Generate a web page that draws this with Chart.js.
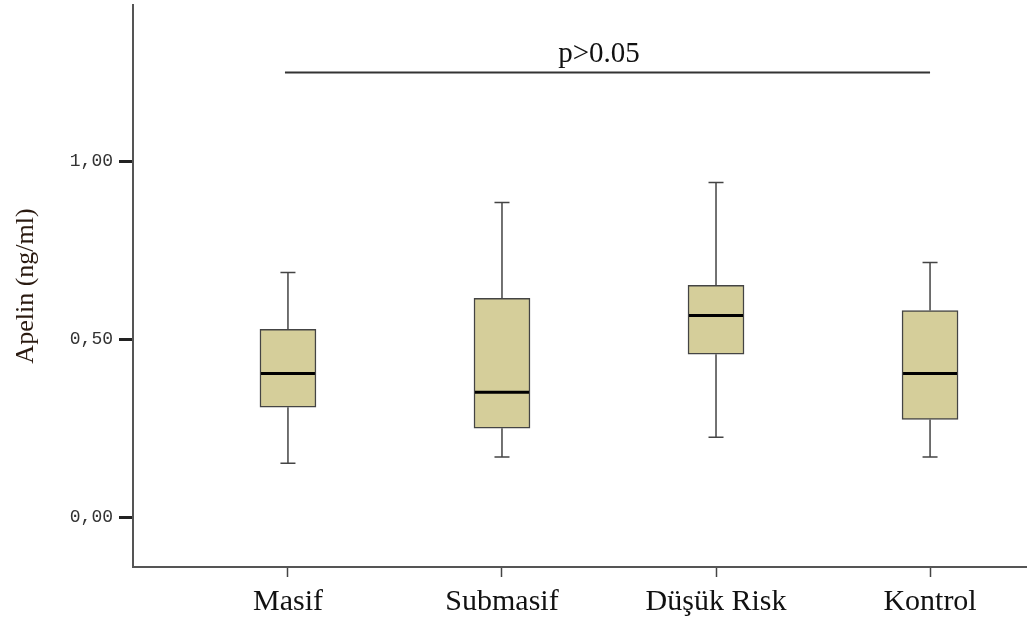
<!DOCTYPE html>
<html><head><meta charset="utf-8">
<script src="https://cdn.jsdelivr.net/npm/chart.js@4.4.1/dist/chart.umd.min.js"></script>
<style>html,body{margin:0;padding:0;background:#fff}#wrap{width:1027px;height:620px;position:relative}</style>
</head><body><div id="wrap"><canvas id="c" width="1027" height="620"></canvas></div>
<script>
const categories = ['Masif', 'Submasif', 'Düşük Risk', 'Kontrol'];
const whiskerLow = [0.152, 0.169, 0.225, 0.169];
const q1 = [0.309, 0.250, 0.458, 0.275];
const median = [0.404, 0.351, 0.567, 0.404];
const q3 = [0.528, 0.615, 0.652, 0.581];
const whiskerHigh = [0.688, 0.885, 0.941, 0.716];
const yTicks = [0, 0.5, 1.0];
const bracketFrom = 0.986, bracketTo = 4, bracketLevel = 1.25;
const bracketLabel = 'p>0.05';

const boxData = categories.map((c, i) => ({x: i + 1, y: [q1[i], q3[i]]}));

const whiskerPlugin = {
  id: 'whiskers',
  afterDatasetsDraw(chart) {
    const {ctx, scales: {x, y}} = chart;
    ctx.save();
    categories.forEach((c, i) => {
      const cx = x.getPixelForValue(i + 1);
      const capHalf = 7.5;
      ctx.strokeStyle = '#444';
      ctx.lineWidth = 1.5;
      ctx.beginPath();
      ctx.moveTo(cx, y.getPixelForValue(q3[i]));
      ctx.lineTo(cx, y.getPixelForValue(whiskerHigh[i]));
      ctx.moveTo(cx, y.getPixelForValue(q1[i]));
      ctx.lineTo(cx, y.getPixelForValue(whiskerLow[i]));
      ctx.moveTo(cx - capHalf, y.getPixelForValue(whiskerHigh[i]));
      ctx.lineTo(cx + capHalf, y.getPixelForValue(whiskerHigh[i]));
      ctx.moveTo(cx - capHalf, y.getPixelForValue(whiskerLow[i]));
      ctx.lineTo(cx + capHalf, y.getPixelForValue(whiskerLow[i]));
      ctx.stroke();
      const meta = chart.getDatasetMeta(0).data[i];
      const half = meta.width / 2;
      ctx.strokeStyle = '#000';
      ctx.lineWidth = 3;
      ctx.beginPath();
      ctx.moveTo(cx - half + 1, y.getPixelForValue(median[i]));
      ctx.lineTo(cx + half - 1, y.getPixelForValue(median[i]));
      ctx.stroke();
    });
    const by = y.getPixelForValue(bracketLevel);
    const bx1 = x.getPixelForValue(bracketFrom), bx2 = x.getPixelForValue(bracketTo);
    ctx.strokeStyle = '#333';
    ctx.lineWidth = 2;
    ctx.beginPath();
    ctx.moveTo(bx1, by);
    ctx.lineTo(bx2, by);
    ctx.stroke();
    ctx.fillStyle = '#111';
    ctx.font = '29px "Liberation Serif"';
    ctx.textAlign = 'center';
    ctx.textBaseline = 'alphabetic';
    ctx.fillText(bracketLabel, 599, by - 11);
    ctx.restore();
  }
};

new Chart(document.getElementById('c'), {
  type: 'bar',
  data: {
    datasets: [{
      data: boxData,
      backgroundColor: '#D5CE9A',
      borderColor: '#444',
      borderWidth: 1.5,
      borderSkipped: false,
      barThickness: 56
    }]
  },
  options: {
    responsive: false,
    animation: false,
    layout: {padding: {top: 5, right: 0, left: 0, bottom: 0}},
    plugins: {legend: {display: false}, tooltip: {enabled: false}},
    scales: {
      x: {
        type: 'linear',
        offset: false,
        min: 0.276, max: 4.453,
        afterBuildTicks(scale) { scale.ticks = categories.map((c, i) => ({value: i + 1})); },
        afterFit(scale) { scale.height = 53; scale.paddingLeft = 0; scale.paddingRight = 0; },
        ticks: {
          callback: (v) => categories[v - 1],
          font: {family: '"Liberation Serif"', size: 30},
          color: '#111',
          padding: 7,
          autoSkip: false,
          maxRotation: 0
        },
        grid: {offset: false, drawOnChartArea: false, drawTicks: true, tickLength: 10, tickColor: '#444', tickWidth: 1.5},
        border: {display: true, color: '#555', width: 2}
      },
      y: {
        min: -0.14, max: 1.44,
        afterBuildTicks(scale) { scale.ticks = yTicks.map(v => ({value: v})); },
        afterFit(scale) { scale.width = 133; scale.paddingTop = 0; scale.paddingBottom = 0; },
        ticks: {
          callback: (v) => v.toFixed(2).replace('.', ','),
          font: {family: '"Liberation Mono"', size: 18},
          color: '#333',
          padding: 6
        },
        grid: {drawOnChartArea: false, drawTicks: true, tickLength: 14, tickColor: '#222', tickWidth: 3},
        border: {display: true, color: '#555', width: 2},
        title: {
          display: true,
          text: 'Apelin (ng/ml)',
          font: {family: '"Liberation Serif"', size: 26},
          color: '#2a1a10',
          padding: {top: 11, bottom: 0}
        }
      }
    }
  },
  plugins: [whiskerPlugin]
});
</script></body></html>
